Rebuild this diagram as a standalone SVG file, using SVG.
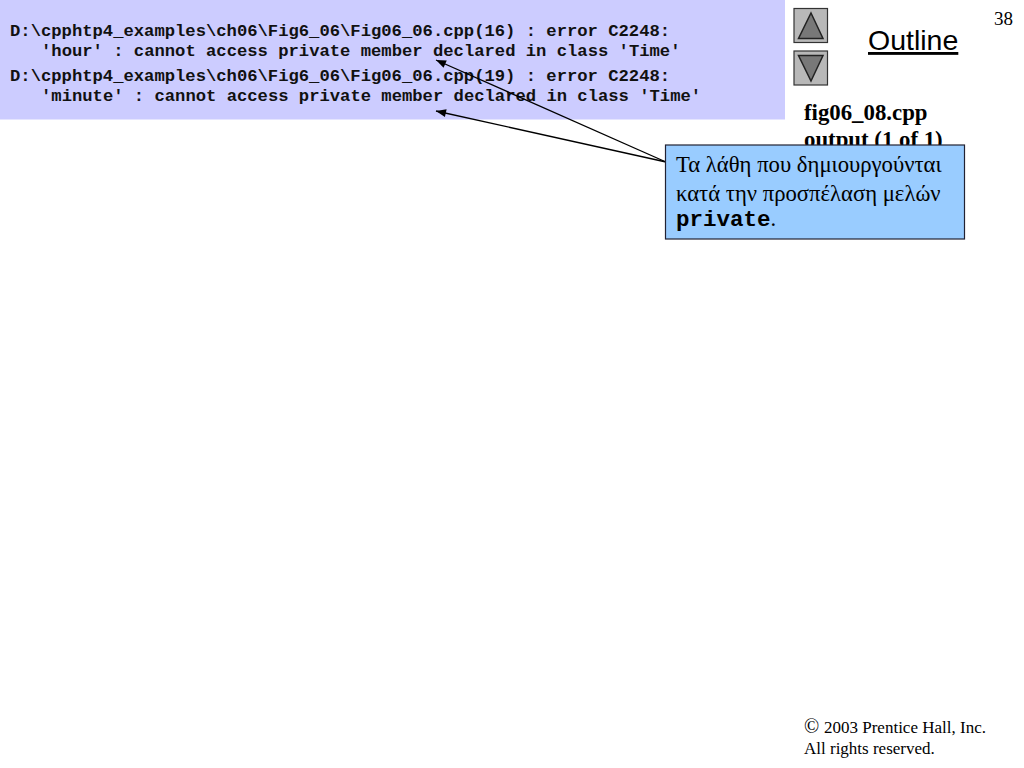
<svg xmlns="http://www.w3.org/2000/svg" width="1024" height="768" viewBox="0 0 1024 768">
<style>
.code{font-family:"Liberation Mono",monospace;font-weight:bold;font-size:17.2px;fill:#111}
.serif{font-family:"Liberation Serif",serif;fill:#000}
.btn{fill:#b8b8b8;stroke:#333;stroke-width:1.2}
.tri{fill:#787878;stroke:#222;stroke-width:1.5}
.conn{stroke:#000;stroke-width:1.3;fill:none;marker-start:url(#a)}
</style>
<defs><marker id="a" markerUnits="userSpaceOnUse" markerWidth="12" markerHeight="10" refX="0" refY="4" orient="auto"><path d="M0 4L10 0L10 8Z" fill="#000"/></marker></defs>
<rect width="1024" height="768" fill="#fff"/>
<g id="code-panel">
<rect x="0" y="0" width="785" height="119.500" fill="#ccccff"/>
<text class="code" x="10" y="36">D:\cpphtp4_examples\ch06\Fig6_06\Fig06_06.cpp(16) : error C2248:</text>
<text class="code" x="41" y="56">'hour' : cannot access private member declared in class 'Time'</text>
<text class="code" x="10" y="81">D:\cpphtp4_examples\ch06\Fig6_06\Fig06_06.cpp(19) : error C2248:</text>
<text class="code" x="41" y="101">'minute' : cannot access private member declared in class 'Time'</text>
</g>
<g id="nav-up"><rect class="btn" x="794" y="8.500" width="33.500" height="34"/><path class="tri" d="M811 13L823 38.500H798.500Z"/></g>
<g id="nav-down"><rect class="btn" x="794" y="51" width="33.500" height="34"/><path class="tri" d="M811 81L823 55.500H798.500Z"/></g>
<g id="outline-link"><text x="868" y="50" font-family="Liberation Sans,sans-serif" font-size="28.500" text-decoration="underline" fill="#000">Outline</text></g>
<g id="page-number"><text class="serif" x="994" y="25" font-size="19">38</text></g>
<g id="fig-label">
<text class="serif" x="804" y="120" font-size="22.800" font-weight="bold">fig06_08.cpp</text>
<text class="serif" x="804" y="147" font-size="22.800" font-weight="bold">output (1 of 1)</text>
</g>
<g id="connectors">
<path class="conn" d="M436 60L666 162"/>
<path class="conn" d="M436 111L666 162"/>
</g>
<g id="callout">
<rect x="665.500" y="145" width="299" height="94" fill="#99ccff" stroke="#223" stroke-width="1.2"/>
<text class="serif" x="676" y="172" font-size="22.700">Τα λάθη που δημιουργούνται</text>
<text class="serif" x="676" y="201" font-size="22.700">κατά την προσπέλαση μελών</text>
<text x="676" y="226" font-size="22.500" class="serif"><tspan font-family="Liberation Mono,monospace" font-weight="bold">private</tspan>.</text>
</g>
<g id="copyright">
<text class="serif" x="804" y="733" font-size="17"><tspan font-size="20">©</tspan><tspan x="824">2003 Prentice Hall, Inc.</tspan></text>
<text class="serif" x="804" y="754" font-size="17">All rights reserved.</text>
</g>
</svg>
